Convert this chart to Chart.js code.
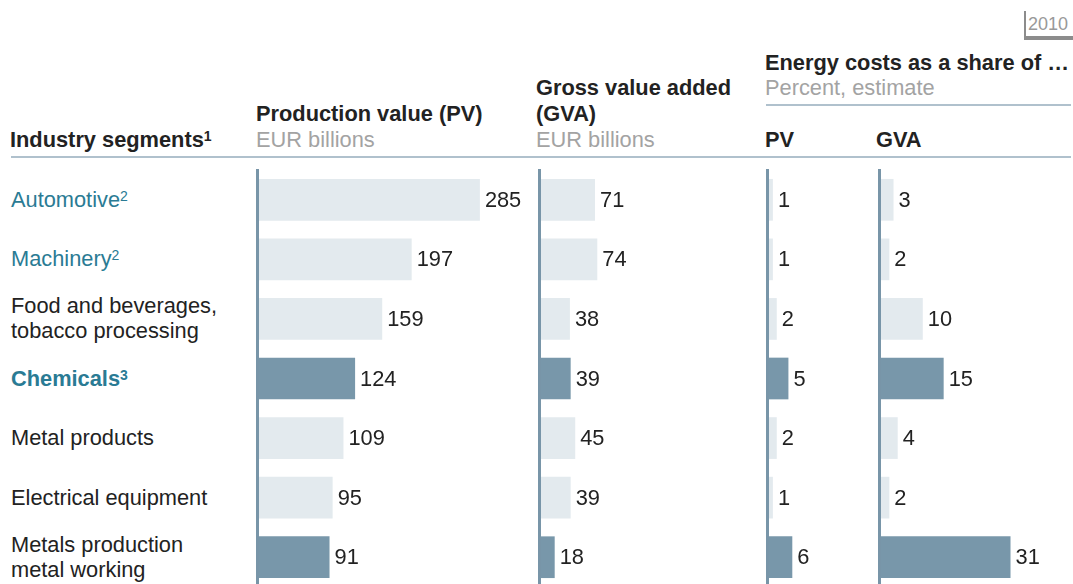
<!DOCTYPE html>
<html>
<head>
<meta charset="utf-8">
<script src="https://cdn.jsdelivr.net/npm/chart.js@4.4.1/dist/chart.umd.min.js"></script>
<style>
  html, body { margin: 0; padding: 0; background: #fff; }
  body { position: relative; width: 1073px; height: 584px; overflow: hidden; font-family: Arial, "Liberation Sans", Helvetica, sans-serif; }
  .txt { position: absolute; white-space: nowrap; }
  .txt sup { font-size: 14px; vertical-align: 6px; line-height: 0; }
  .rule { position: absolute; background: #b0c1cd; }
  canvas { position: absolute; }
</style>
</head>
<body>
<script>
// Data
const segments = ['Automotive', 'Machinery', 'Food and beverages,\ntobacco processing', 'Chemicals', 'Metal products', 'Electrical equipment', 'Metals production\nmetal working'];
const segmentNotes = ['2', '2', '', '3', '', '', ''];
const highlighted = [false, false, false, true, false, false, true];
const productionValue = [285, 197, 159, 124, 109, 95, 91];
const grossValueAdded = [71, 74, 38, 39, 45, 39, 18];
const energyShareOfPV = [1, 1, 2, 5, 2, 1, 6];
const energyShareOfGVA = [3, 2, 10, 15, 4, 2, 31];

const TEAL = '#2a7b94';
const DARK = '#222';
const GREY = '#a3a3a3';
const BAR_DARK = '#7897aa';
const BAR_LIGHT = '#e3eaee';

// place a text by its baseline
function addText(html, x, baseline, size, weight, color) {
    const d = document.createElement('div');
    d.className = 'txt';
    d.innerHTML = html;
    d.style.left = x + 'px';
    d.style.top = (baseline - 0.8465 * size) + 'px';
    d.style.fontSize = size + 'px';
    d.style.lineHeight = size + 'px';
    d.style.fontWeight = weight;
    d.style.color = color;
    document.body.appendChild(d);
    return d;
}

function addRule(x, y, w, h, color) {
    const d = document.createElement('div');
    d.className = 'rule';
    Object.assign(d.style, { left: x + 'px', top: y + 'px', width: w + 'px', height: h + 'px' });
    if (color) d.style.background = color;
    document.body.appendChild(d);
}

// Header texts
const H = 21.8;
addText('Industry segments<sup>1</sup>', 10, 147, H, 'bold', DARK);
addText('Production value (PV)', 256, 121, H, 'bold', DARK);
addText('EUR billions', 256, 147, H, 'normal', GREY);
addText('Gross value added', 536, 95, H, 'bold', DARK);
addText('(GVA)', 536, 121, H, 'bold', DARK);
addText('EUR billions', 536, 147, H, 'normal', GREY);
addText('Energy costs as a share of …', 765, 70, H, 'bold', DARK);
addText('Percent, estimate', 765, 95, H, 'normal', GREY);
addText('PV', 765, 147, H, 'bold', DARK);
addText('GVA', 876, 147, H, 'bold', DARK);
addRule(11, 156, 1060, 2);
addRule(766, 104, 305, 2);

// year tag
addText('2010', 1028, 30, 18, 'normal', '#999');
addRule(1024, 11, 2, 29, '#8c8c8c');
addRule(1024, 36, 49, 4, '#8c8c8c');

// Axis line on the left edge of each panel
const axisLine = {
    id: 'axisLine',
    afterDatasetsDraw(chart) {
        const { ctx, chartArea } = chart;
        ctx.save();
        ctx.fillStyle = '#7895a8';
        ctx.fillRect(chartArea.left - 3, chartArea.top - 1, 3, chart.height);
        ctx.restore();
    }
};

// Value labels to the right of the bars
const valueLabels = {
    id: 'valueLabels',
    afterDatasetsDraw(chart) {
        const { ctx } = chart;
        const ds = chart.data.datasets[0];
        ctx.save();
        ctx.font = '21.8px Arial, "Liberation Sans", sans-serif';
        ctx.fillStyle = DARK;
        ctx.textBaseline = 'middle';
        ctx.textAlign = 'left';
        chart.getDatasetMeta(0).data.forEach((bar, i) => {
            ctx.fillText(String(ds.data[i]), bar.x + 5, bar.y + 1);
        });
        ctx.restore();
    }
};

function makePanel(values, left, max, pxPerUnit) {
    const padLeft = 4;
    const cv = document.createElement('canvas');
    const w = Math.round(padLeft + max * pxPerUnit);
    cv.width = w;
    cv.height = 420;
    cv.style.left = left + 'px';
    cv.style.top = '169px';
    cv.style.width = w + 'px';
    cv.style.height = '420px';
    document.body.appendChild(cv);
    return new Chart(cv.getContext('2d'), {
        type: 'bar',
        data: {
            labels: segments,
            datasets: [{
                data: values,
                backgroundColor: highlighted.map(h => h ? BAR_DARK : BAR_LIGHT),
                borderWidth: 0,
                barPercentage: 0.7,
                categoryPercentage: 1
            }]
        },
        options: {
            indexAxis: 'y',
            responsive: false,
            animation: false,
            layout: { padding: { left: padLeft, top: 1, bottom: 2, right: 0 } },
            scales: {
                x: { display: false, min: 0, max: max },
                y: { display: false }
            },
            plugins: { legend: { display: false }, tooltip: { enabled: false } }
        },
        plugins: [axisLine, valueLabels]
    });
}

const pvChart = makePanel(productionValue, 255, 360, 0.7755);
makePanel(grossValueAdded, 537, 280, 0.76);
makePanel(energyShareOfPV, 765, 26, 3.9);
makePanel(energyShareOfGVA, 877, 45, 4.17);

// Row labels, centred on the rows of the chart's category scale
const yScale = pvChart.scales.y;
segments.forEach((name, i) => {
    const center = 169 + yScale.getPixelForValue(i);
    const lines = name.split('\n');
    const isHi = highlighted[i];
    const color = segmentNotes[i] ? TEAL : DARK;
    lines.forEach((line, k) => {
        let html = line;
        if (k === lines.length - 1 && segmentNotes[i]) html += '<sup>' + segmentNotes[i] + '</sup>';
        const baseline = center + 7.5 + (k - (lines.length - 1) / 2) * 25;
        addText(html, 11, baseline, 21.8, isHi && segmentNotes[i] ? 'bold' : 'normal', color);
    });
});
</script>
</body>
</html>
